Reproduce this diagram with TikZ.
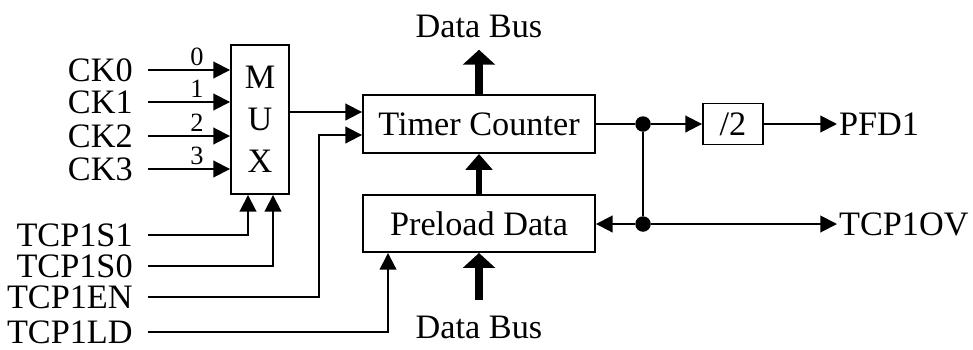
\documentclass[tikz,border=0pt]{standalone}
\usepackage{fontspec}
\setmainfont{Liberation Serif}
\usetikzlibrary{arrows.meta}

\tikzset{
  wire/.style={line width=1.1pt},
  sig/.style={line width=1.1pt, -{Triangle[length=9.5pt,width=9.5pt]}},
  bus/.style={line width=5pt, -{Triangle[length=8.5pt,width=18pt]}},
  midbus/.style={line width=3.4pt, -{Triangle[length=9pt,width=15pt]}},
  box/.style={draw, line width=1.1pt, inner sep=0pt},
  inlbl/.style={inner ysep=0pt, inner xsep=0.3cm, anchor=east},
  outlbl/.style={inner ysep=0pt, inner xsep=1pt, anchor=west},
  digit/.style={inner sep=1pt, anchor=south, font=\fontsize{15}{15}\selectfont},
  jdot/.style={circle, fill, inner sep=0pt, minimum size=0.31cm},
}

\begin{document}
\begin{tikzpicture}[x=0.02cm, y=-0.02cm, font=\fontsize{19.5}{23.9}\selectfont]
    \useasboundingbox (0,0) rectangle (973,349);

    % Blocks
    \node[box, minimum width=1.16cm, minimum height=2.98cm, align=center] (mux) at (260,119.5) {M\\U\\X};
    \node[box, minimum width=4.64cm, minimum height=1.16cm] (tc) at (479,124) {Timer Counter};
    \node[box, minimum width=4.64cm, minimum height=1.14cm] (pd) at (479,223.5) {Preload Data};
    \node[box, minimum width=1.2cm, minimum height=0.82cm] (div) at (733,124) {/2};

    % Clock inputs of the MUX
    \foreach \i/\y in {0/70,1/102,2/136,3/169} {
        \node[inlbl] (ck\i) at (148,\y) {CK\i};
        \draw[sig] (ck\i.east) -- (ck\i.east -| mux.west);
        \node[digit] (n\i) at (197,\y-2) {\i};
    }

    % Control inputs
    \node[inlbl] (s1) at (148,235) {TCP1S1};
    \node[inlbl] (s0) at (148,266) {TCP1S0};
    \node[inlbl] (en) at (148,297) {TCP1EN};
    \node[inlbl] (ld) at (148,332) {TCP1LD};

    \draw[sig] (s1.east) -| ([xshift=-0.24cm]mux.south);
    \draw[sig] (s0.east) -| ([xshift=0.26cm]mux.south);

    % Timer counter inputs
    \coordinate (tcin1) at ([yshift=0.24cm]tc.west);
    \coordinate (tcin2) at ([yshift=-0.22cm]tc.west);
    \draw[sig] (mux.east |- tcin1) -- (tcin1);
    \draw[sig] (en.east) -| ([xshift=-0.86cm]tcin2) -- (tcin2);
    \draw[sig] (ld.east) -| ([xshift=-1.82cm]pd.south);

    % Data bus
    \node[inner sep=0pt] (dbt) at (479,26) {Data Bus};
    \node[inner sep=0pt] (dbb) at (479,327) {Data Bus};
    \draw[bus] (tc.north) -- ([yshift=-0.24cm]dbt.south);
    \draw[bus] ([yshift=0.3cm]dbb.north) -- (pd.south);
    \draw[midbus] (pd.north) -- (tc.south);

    % Outputs
    \node[jdot] (j1) at (643,124) {};
    \node[jdot] (j2) at (643,224) {};
    \node[outlbl] (pfd) at (837,124) {PFD1};
    \node[outlbl] (ov) at (837,224) {TCP1OV};

    \draw[wire] (tc.east) -- (j1);
    \draw[sig] (j1) -- (div.west);
    \draw[sig] (div.east) -- (pfd.west);
    \draw[wire] (j1) -- (j2);
    \draw[sig] (j2) -- (pd.east |- j2);
    \draw[sig] (j2) -- (ov.west);

\end{tikzpicture}
\end{document}
